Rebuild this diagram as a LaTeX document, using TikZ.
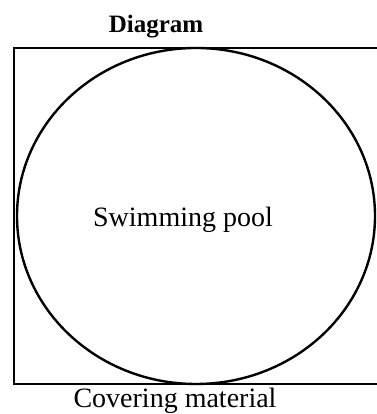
\documentclass[tikz,border=0pt]{standalone}
\usepackage{fontspec}
\setmainfont{Liberation Serif}
\usetikzlibrary{shapes.geometric}
\begin{document}
\begin{tikzpicture}[x=1pt,y=1pt,
  outline/.style={line width=2.6pt,black},
  pool/.style={line width=2.4pt,black},
  lbl/.style={inner sep=0pt,anchor=base}]
\useasboundingbox (0,0) rectangle (376,414);
\coordinate (tr) at (377,366);
\coordinate (tl) at (14,366);
\coordinate (bl) at (14,30);
\coordinate (br) at (377,30);
\draw[outline,line cap=butt] (tr) -- (tl) -- (bl) -- (br);
\node[pool,draw,ellipse,minimum width=358pt,minimum height=336pt,inner sep=0pt] (pool) at (196,198) {};
\node[lbl,font=\fontsize{25}{30}\selectfont\bfseries] (title) at (156,381) {Diagram};
\node[lbl,font=\fontsize{28}{33}\selectfont] (name) at (183,187) {Swimming pool};
\node[lbl,font=\fontsize{28}{33}\selectfont] (cover) at (175,6) {Covering material};
\end{tikzpicture}
\end{document}
